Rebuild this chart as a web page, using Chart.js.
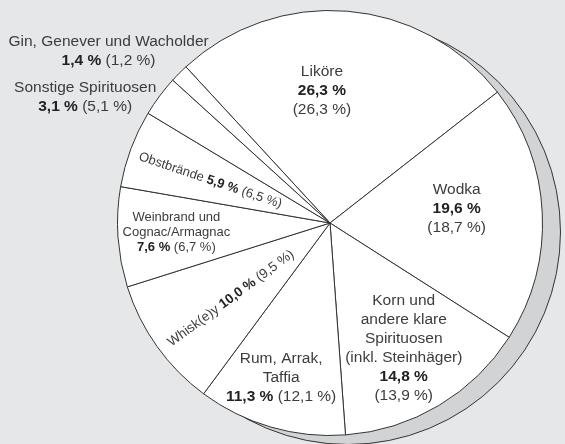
<!DOCTYPE html>
<html>
<head>
<meta charset="utf-8">
<script src="https://cdn.jsdelivr.net/npm/chart.js@4.4.0/dist/chart.umd.min.js"></script>
<style>
  html, body { margin: 0; padding: 0; background: #e6e7e8; }
  #wrap { width: 565px; height: 444px; }
</style>
</head>
<body>
<div id="wrap"><canvas id="pie" width="565" height="444"></canvas></div>
<script>
// Anteile am Spirituosenabsatz (Vorjahr in Klammern)
const categories = ['Liköre', 'Wodka', 'Korn und andere klare Spirituosen (inkl. Steinhäger)',
  'Rum, Arrak, Taffia', 'Whisk(e)y', 'Weinbrand und Cognac/Armagnac', 'Obstbrände',
  'Sonstige Spirituosen', 'Gin, Genever und Wacholder']
const shares = [26.3, 19.6, 14.8, 11.3, 10.0, 7.6, 5.9, 3.1, 1.4]
const previousShares = [26.3, 18.7, 13.9, 12.1, 9.5, 6.7, 6.5, 5.1, 1.2]
const labelLines = [
  ['Liköre'], ['Wodka'], ['Korn und', 'andere klare', 'Spirituosen', '(inkl. Steinhäger)'],
  ['Rum, Arrak,', 'Taffia'], ['Whisk(e)y'], ['Weinbrand und', 'Cognac/Armagnac'],
  ['Obstbrände'], ['Sonstige Spirituosen'], ['Gin, Genever und Wacholder']
]

// label placement, in units of the pie radius relative to the centre
const labelPlacement = [
  {x: -0.038, y: -0.624, mode: 'stack', size: 15.5},
  {x: 0.596, y: -0.066, mode: 'stack', size: 15.5},
  {x: 0.347, y: 0.589, mode: 'stack', size: 15.5},
  {x: -0.230, y: 0.728, mode: 'pair', size: 15.5},
  {x: -0.466, y: 0.355, mode: 'inline', size: 13.5, rot: -36.4},
  {x: -0.723, y: 0.042, mode: 'pair', size: 13, lh: 15},
  {x: -0.563, y: -0.200, mode: 'inline', size: 13, rot: 18.7},
  {x: -1.152, y: -0.593, mode: 'pair', size: 15.5},
  {x: -1.042, y: -0.810, mode: 'pair', size: 15.5}
]

const fmt = v => v.toFixed(1).replace('.', ',') + ' %'
const FONT = '"Liberation Sans", Arial, Helvetica, sans-serif'

const shadowPlugin = {
  id: 'shadow',
  beforeDatasetsDraw(chart) {
    const arc = chart.getDatasetMeta(0).data[0]
    if (!arc) return
    const ctx = chart.ctx
    ctx.save()
    ctx.beginPath()
    ctx.arc(arc.x + 18, arc.y + 9, arc.outerRadius, 0, Math.PI * 2)
    ctx.fillStyle = '#d1d3d4'
    ctx.fill()
    ctx.lineWidth = 1
    ctx.strokeStyle = '#333'
    ctx.stroke()
    ctx.restore()
  }
}

function drawLine(ctx, parts, x, y, size) {
  let total = 0
  const widths = parts.map(p => {
    ctx.font = (p.bold ? 'bold ' : '') + size + 'px ' + FONT
    const w = ctx.measureText(p.text).width
    total += w
    return w
  })
  let cx = x - total / 2
  parts.forEach((p, i) => {
    ctx.font = (p.bold ? 'bold ' : '') + size + 'px ' + FONT
    ctx.fillStyle = p.bold ? '#222' : '#3c3c3c'
    ctx.fillText(p.text, cx, y)
    cx += widths[i]
  })
}

const labelPlugin = {
  id: 'sliceLabels',
  afterDatasetsDraw(chart) {
    const arc = chart.getDatasetMeta(0).data[0]
    if (!arc) return
    const ctx = chart.ctx
    const r = arc.outerRadius
    ctx.save()
    ctx.textBaseline = 'middle'
    ctx.textAlign = 'left'
    categories.forEach((c, i) => {
      const pl = labelPlacement[i]
      const cur = {text: fmt(shares[i]), bold: true}
      const prev = {text: '(' + fmt(previousShares[i]) + ')', bold: false}
      const sp = {text: ' ', bold: false}
      let rows
      if (pl.mode === 'stack') {
        rows = labelLines[i].map(t => [{text: t}]).concat([[cur], [prev]])
      } else if (pl.mode === 'pair') {
        rows = labelLines[i].map(t => [{text: t}]).concat([[cur, sp, prev]])
      } else {
        rows = [[{text: labelLines[i].join(' ')}, sp, cur, sp, prev]]
      }
      const lh = pl.lh || Math.round(pl.size * 1.22)
      const x = arc.x + pl.x * r
      const y = arc.y + pl.y * r
      ctx.save()
      ctx.translate(x, y)
      if (pl.rot) ctx.rotate(pl.rot * Math.PI / 180)
      const y0 = -(rows.length - 1) * lh / 2
      rows.forEach((row, k) => drawLine(ctx, row, 0, y0 + k * lh, pl.size))
      ctx.restore()
    })
    ctx.restore()
  }
}

new Chart(document.getElementById('pie').getContext('2d'), {
  type: 'pie',
  data: {
    labels: categories,
    datasets: [{
      data: shares,
      backgroundColor: '#ffffff',
      borderColor: '#333333',
      borderWidth: 1
    }]
  },
  options: {
    responsive: false,
    animation: false,
    rotation: -42.7,
    layout: {padding: {left: 117, right: 22, top: 10, bottom: 8}},
    plugins: {legend: {display: false}, tooltip: {enabled: false}}
  },
  plugins: [shadowPlugin, labelPlugin]
})
</script>
</body>
</html>
